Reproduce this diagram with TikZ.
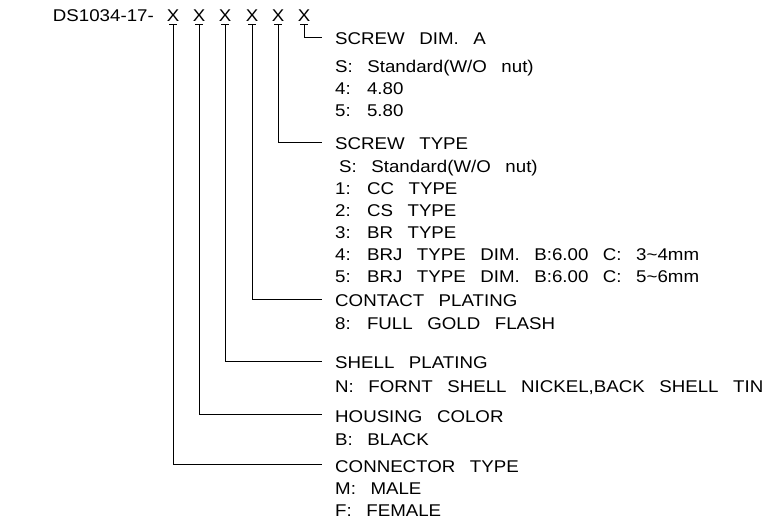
\documentclass[tikz,border=0pt]{standalone}
\usepackage{fontspec}
\setmainfont{Liberation Sans}[WordSpace=2.8, FakeStretch=1.1]
\begin{document}
\begin{tikzpicture}[x=1pt, y=-1pt,
    every node/.style={font=\fontsize{17}{22}\selectfont, inner sep=0pt},
    code/.style={anchor=base},
    heading/.style={anchor=base west, inner xsep=13pt},
    option/.style={anchor=base west},
    link/.style={line width=0.8pt}]
  \useasboundingbox (0,0) rectangle (776,526);
  % part number
  \node[anchor=base east] (prefix) at (154,22) {DS1034-17-};
  \foreach \x [count=\i] in {173,199,225,252,278,304}
    \node[code] (x\i) at (\x,22) {X};
  % headings
  \node[heading] (dimA) at (322,45) {SCREW DIM. A};
  \node[heading] (screw) at (322,150) {SCREW TYPE};
  \node[heading] (contact) at (322,307) {CONTACT PLATING};
  \node[heading] (shell) at (322,369) {SHELL PLATING};
  \node[heading] (housing) at (322,422) {HOUSING COLOR};
  \node[heading] (conn) at (322,472) {CONNECTOR TYPE};
  % options
  \foreach \txt [count=\i] in {{S: Standard(W/O nut)}, {4: 4.80}, {5: 5.80}}
    \node[option] (dimA-\i) at (335,51+22*\i) {\txt};
  \node[option] (screw-1) at (339,173) {S: Standard(W/O nut)};
  \foreach \txt [count=\i from 2] in {{1: CC TYPE}, {2: CS TYPE}, {3: BR TYPE},
      {4: BRJ TYPE DIM. B:6.00 C: 3\textasciitilde 4mm},
      {5: BRJ TYPE DIM. B:6.00 C: 5\textasciitilde 6mm}}
    \node[option] (screw-\i) at (335,151+22*\i) {\txt};
  \node[option] (contact-1) at (335,330) {8: FULL GOLD FLASH};
  \node[option] (shell-1) at (335,392) {N: FORNT SHELL NICKEL,BACK SHELL TIN};
  \node[option] (housing-1) at (335,445) {B: BLACK};
  \node[option] (conn-1) at (335,494) {M: MALE};
  \node[option] (conn-2) at (335,516) {F: FEMALE};
  % leaders
  \foreach \i in {1,...,6}
    \draw[link] ([xshift=-4pt,yshift=-2pt]x\i.south) -- ([xshift=4pt,yshift=-2pt]x\i.south);
  \draw[link] ([yshift=-2pt]x6.south) |- ([yshift=2pt]dimA.west);
  \draw[link] ([yshift=-2pt]x5.south) |- ([yshift=2pt]screw.west);
  \draw[link] ([yshift=-2pt]x4.south) |- ([yshift=2pt]contact.west);
  \draw[link] ([yshift=-2pt]x3.south) |- ([yshift=2pt]shell.west);
  \draw[link] ([yshift=-2pt]x2.south) |- ([yshift=2pt]housing.west);
  \draw[link] ([yshift=-2pt]x1.south) |- ([yshift=2pt]conn.west);
\end{tikzpicture}
\end{document}
